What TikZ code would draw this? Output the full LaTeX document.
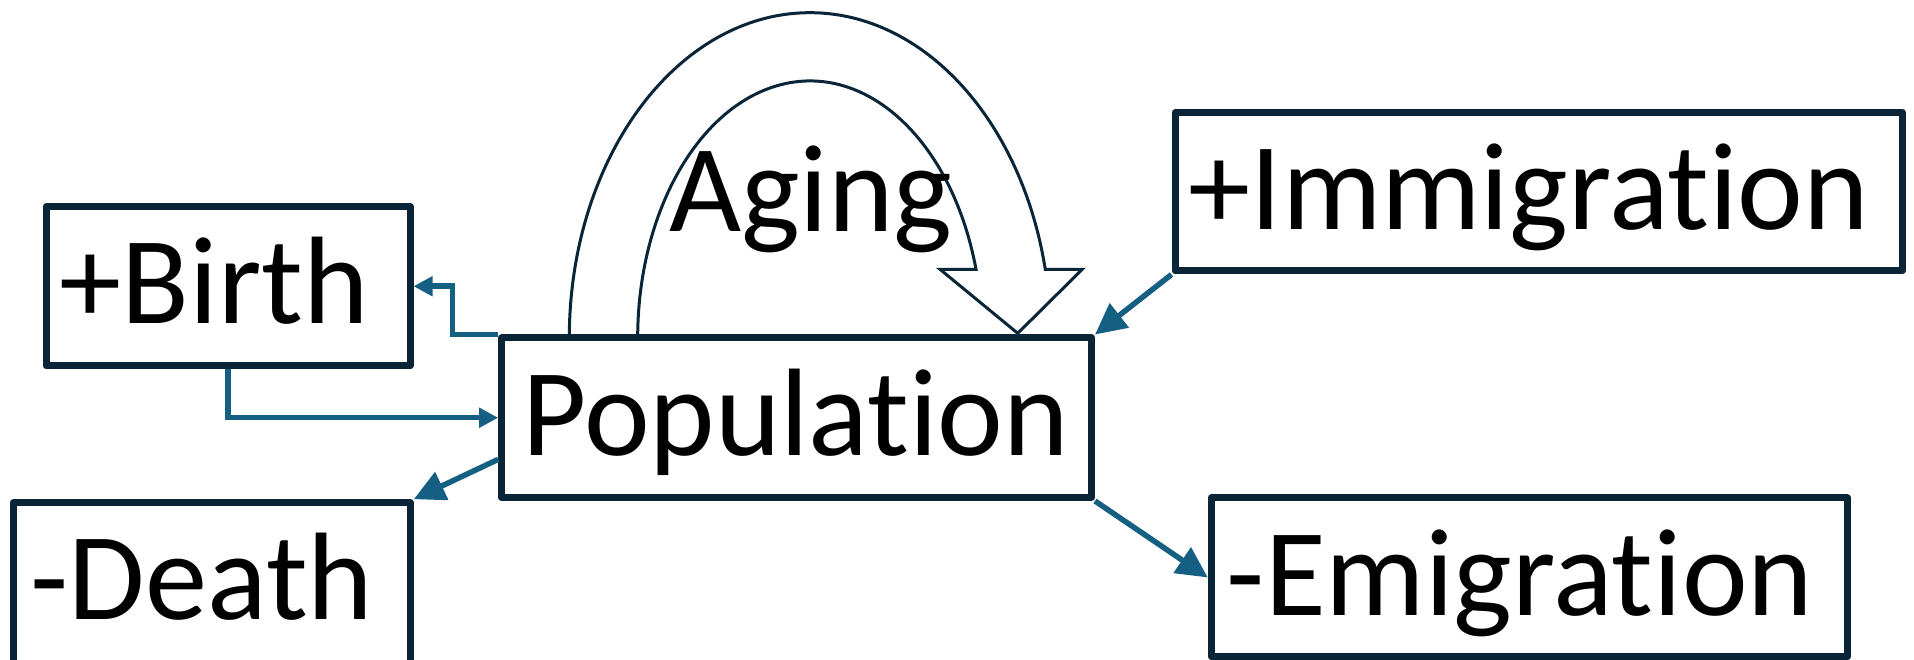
\documentclass[tikz,border=0pt]{standalone}
\usepackage{fontspec}
\setmainfont{Carlito}[Ligatures={NoCommon,NoRequired,NoContextual}]
\usetikzlibrary{arrows.meta,calc}
\definecolor{navy}{HTML}{0A2538}
\definecolor{flowblue}{HTML}{156082}
\begin{document}
\begin{tikzpicture}[x=1pt,y=1pt,
  box/.style={draw=navy, line width=7pt, line join=round, fill=white, inner sep=0pt},
  lbl/.style={font=\fontsize{124.5}{150}\selectfont, inner sep=0pt, anchor=base, text=black},
  flow/.style={draw=flowblue, line width=5.5pt, -{Triangle[length=31pt,width=30pt]}},
  flowsmall/.style={draw=flowblue, line width=5.5pt, -{Triangle[length=19pt,width=19pt]}},
  agingshape/.style={draw=navy, line width=3pt, line join=miter}]
\useasboundingbox (0,0) rectangle (1914,660);
% self-loop block arrow (Aging)
\draw[agingshape] (569.3,322) arc[start angle=180, end angle=12.19, x radius=240.7, y radius=325.3]
  -- (1082.3,390.7) -- (1017.7,326.7) -- (940,390.7) -- (976,390.7)
  arc[start angle=15.5, end angle=180, x radius=172.3, y radius=257] -- cycle;
% boxes
\node[box, minimum width=364pt, minimum height=159.4pt] (birth) at (228,373.75) {};
\node[box, minimum width=589.8pt, minimum height=159.5pt] (pop) at (796.6,242.25) {};
\node[box, minimum width=397.3pt, minimum height=162.3pt] (death) at (211.65,76.15) {};
\node[box, minimum width=727.5pt, minimum height=158.5pt] (immig) at (1538.75,468.25) {};
\node[box, minimum width=636pt, minimum height=159pt] (emig) at (1529.3,82.5) {};
% labels
\node[lbl] (tbirth) at (214.3,336) {+Birth};
\node[lbl] (tpop) at (795.5,204) {Population};
\node[lbl] (tdeath) at (202,40) {-Death};
\node[lbl] (timmig) at (1528.7,430) {+Immigration};
\node[lbl] (temig) at (1520,44) {-Emigration};
\node[lbl] (taging) at (810.7,428.3) {Aging};
% connectors
\draw[flowsmall] (birth.south) |- (pop.west);
\draw[flowsmall] (pop.north west) -- ([xshift=-45.7pt]pop.north west) |- (birth.east);
\draw[flow] ($(pop.north west)!0.75!(pop.south west)$) -- (death.north east);
\draw[flow] (immig.south west) -- (pop.north east);
\draw[flow] (pop.south east) -- (emig.west);
\end{tikzpicture}
\end{document}
